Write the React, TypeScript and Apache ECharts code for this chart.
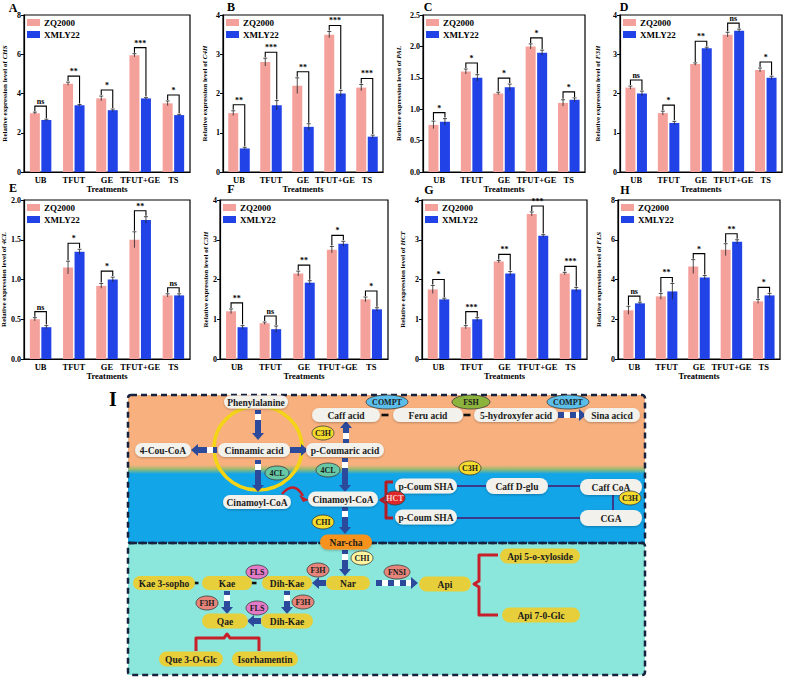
import React, { useEffect, useRef } from 'react';
import * as echarts from 'echarts';

const treatments = ['UB', 'TFUT', 'GE', 'TFUT+GE', 'TS'];
const cultivars = ['ZQ2000', 'XMLY22'];

// A - CHS
const chsZQ = [3.0, 4.5, 3.75, 5.95, 3.5];
const chsXM = [2.65, 3.4, 3.15, 3.75, 2.9];
const chsZQErr = [0.05, 0.08, 0.12, 0.08, 0.12];
const chsXMErr = [0.04, 0.04, 0.06, 0.04, 0.04];
const chsSig = ['ns', '**', '*', '***', '*'];
// B - C4H
const c4hZQ = [1.5, 2.8, 2.2, 3.5, 2.15];
const c4hXM = [0.6, 1.7, 1.15, 2.0, 0.9];
const c4hZQErr = [0.06, 0.1, 0.2, 0.08, 0.08];
const c4hXMErr = [0.03, 0.12, 0.08, 0.08, 0.04];
const c4hSig = ['**', '***', '**', '***', '***'];
// C - PAL
const palZQ = [0.75, 1.6, 1.25, 2.0, 1.1];
const palXM = [0.8, 1.5, 1.35, 1.9, 1.15];
const palZQErr = [0.06, 0.04, 0.02, 0.04, 0.05];
const palXMErr = [0.05, 0.05, 0.05, 0.04, 0.03];
const palSig = ['*', '*', '*', '*', '*'];
// D - F3H
const f3hZQ = [2.15, 1.5, 2.75, 3.5, 2.6];
const f3hXM = [2.0, 1.25, 3.15, 3.6, 2.4];
const f3hZQErr = [0.04, 0.05, 0.03, 0.06, 0.05];
const f3hXMErr = [0.06, 0.04, 0.03, 0.04, 0.04];
const f3hSig = ['ns', '*', '**', 'ns', '*'];
// E - 4CL
const c4lZQ = [0.5, 1.15, 0.92, 1.5, 0.8];
const c4lXM = [0.4, 1.35, 1.0, 1.75, 0.8];
const c4lZQErr = [0.02, 0.08, 0.03, 0.1, 0.02];
const c4lXMErr = [0.02, 0.03, 0.03, 0.04, 0.02];
const c4lSig = ['ns', '*', '*', '**', 'ns'];
// F - C3H
const c3hZQ = [1.2, 0.9, 2.15, 2.75, 1.5];
const c3hXM = [0.8, 0.75, 1.92, 2.9, 1.25];
const c3hZQErr = [0.06, 0.03, 0.06, 0.08, 0.06];
const c3hXMErr = [0.04, 0.08, 0.05, 0.06, 0.04];
const c3hSig = ['**', 'ns', '**', '*', '*'];
// G - HCT
const hctZQ = [1.75, 0.8, 2.45, 3.65, 2.15];
const hctXM = [1.5, 1.0, 2.15, 3.1, 1.75];
const hctZQErr = [0.1, 0.04, 0.03, 0.05, 0.03];
const hctXMErr = [0.03, 0.04, 0.05, 0.03, 0.05];
const hctSig = ['*', '***', '**', '***', '***'];
// H - FLS
const flsZQ = [2.45, 3.15, 4.65, 5.5, 2.9];
const flsXM = [2.8, 3.4, 4.1, 5.9, 3.2];
const flsZQErr = [0.2, 0.15, 0.35, 0.3, 0.1];
const flsXMErr = [0.06, 0.4, 0.1, 0.1, 0.1];
const flsSig = ['ns', '**', '*', '**', '*'];

const panels = [
  { letter: 'A', gene: 'CHS', zq: chsZQ, xm: chsXM, zqErr: chsZQErr, xmErr: chsXMErr, sig: chsSig, max: 8, interval: 2, dec: 0 },
  { letter: 'B', gene: 'C4H', zq: c4hZQ, xm: c4hXM, zqErr: c4hZQErr, xmErr: c4hXMErr, sig: c4hSig, max: 4, interval: 1, dec: 0 },
  { letter: 'C', gene: 'PAL', zq: palZQ, xm: palXM, zqErr: palZQErr, xmErr: palXMErr, sig: palSig, max: 2.5, interval: 0.5, dec: 1 },
  { letter: 'D', gene: 'F3H', zq: f3hZQ, xm: f3hXM, zqErr: f3hZQErr, xmErr: f3hXMErr, sig: f3hSig, max: 4, interval: 1, dec: 0 },
  { letter: 'E', gene: '4CL', zq: c4lZQ, xm: c4lXM, zqErr: c4lZQErr, xmErr: c4lXMErr, sig: c4lSig, max: 2, interval: 0.5, dec: 1 },
  { letter: 'F', gene: 'C3H', zq: c3hZQ, xm: c3hXM, zqErr: c3hZQErr, xmErr: c3hXMErr, sig: c3hSig, max: 4, interval: 1, dec: 0 },
  { letter: 'G', gene: 'HCT', zq: hctZQ, xm: hctXM, zqErr: hctZQErr, xmErr: hctXMErr, sig: hctSig, max: 4, interval: 1, dec: 0 },
  { letter: 'H', gene: 'FLS', zq: flsZQ, xm: flsXM, zqErr: flsZQErr, xmErr: flsXMErr, sig: flsSig, max: 8, interval: 2, dec: 0 },
];

const layouts = [
  { left: 24, top: 15, width: 166, height: 157, nameGap: 15.5, lx: 13, ly: 8 },
  { left: 223, top: 15, width: 160, height: 157, nameGap: 14.5, lx: 231, ly: 7 },
  { left: 423, top: 15, width: 162, height: 157, nameGap: 20.5, lx: 428, ly: 7 },
  { left: 620, top: 15, width: 162, height: 157, nameGap: 18.5, lx: 624, ly: 7 },
  { left: 24, top: 200, width: 166, height: 159, nameGap: 15.5, lx: 13, ly: 188 },
  { left: 220, top: 200, width: 168, height: 159, nameGap: 8.5, lx: 231, ly: 189 },
  { left: 422, top: 200, width: 165, height: 159, nameGap: 15.5, lx: 429, ly: 190 },
  { left: 618, top: 200, width: 162, height: 159, nameGap: 15.5, lx: 625, ly: 190 },
];

const FONT = '"Liberation Serif", "Times New Roman", serif';
const ZQC = '#F4A19C';
const XMC = '#2142E6';
const BAR_W = 10;
const OFF = 5.75;

const makeRenderer = (p: any) => (params: any, api: any) => {
  const i = params.dataIndex;
  const cx = api.coord([i, 0])[0];
  const xl = cx - OFF;
  const xr = cx + OFF;
  const y = (v: number) => api.coord([i, v])[1];
  const zt = y(p.zq[i] + p.zqErr[i]);
  const zb = y(p.zq[i] - p.zqErr[i]);
  const xt = y(p.xm[i] + p.xmErr[i]);
  const xb = y(p.xm[i] - p.xmErr[i]);
  const yb = Math.min(zt, xt) - 6;
  const ls = { stroke: '#222', lineWidth: 0.8 };
  return {
    type: 'group',
    children: [
      { type: 'line', shape: { x1: xl, y1: zt, x2: xl, y2: zb }, style: ls },
      { type: 'line', shape: { x1: xl - 2, y1: zt, x2: xl + 2, y2: zt }, style: ls },
      { type: 'line', shape: { x1: xr, y1: xt, x2: xr, y2: xb }, style: ls },
      { type: 'line', shape: { x1: xr - 2, y1: xt, x2: xr + 2, y2: xt }, style: ls },
      {
        type: 'polyline',
        shape: { points: [[xl, zt - 1], [xl, yb], [xr, yb], [xr, xt - 1]] },
        style: { stroke: '#000', lineWidth: 1.1, fill: 'none' },
      },
      {
        type: 'text',
        x: cx,
        y: yb - 0.5,
        style: { text: p.sig[i], align: 'center', verticalAlign: 'bottom', font: 'bold 8px ' + FONT, fill: '#000' },
      },
    ],
  };
};

// ---------- pathway diagram helpers ----------
const ARROW = '#2B4A9C';
function arrow(x1: number, y1: number, x2: number, y2: number, dashed = false) {
  const els: any[] = [];
  const hl = 7, hw = 12, sw = 6;
  const horiz = y1 === y2;
  const dir = horiz ? Math.sign(x2 - x1) : Math.sign(y2 - y1);
  const len = horiz ? Math.abs(x2 - x1) : Math.abs(y2 - y1);
  const shaft = Math.max(0, len - hl);
  const pt = (t: number, s: number) => (horiz ? [x1 + dir * t, y1 + s] : [x1 + s, y1 + dir * t]);
  const segs: any[] = [];
  if (dashed) {
    let t = 0, k = 0;
    while (t < shaft - 0.5) {
      const e = Math.min(shaft, t + 6);
      segs.push([t, e, k % 2 ? '#FFFFFF' : ARROW]);
      t = e; k++;
    }
  } else if (shaft > 0) {
    segs.push([0, shaft, ARROW]);
    if (shaft > 13) segs.push([4, 10, '#FFFFFF']);
  }
  segs.forEach(([a, b, col]) => {
    const p1 = pt(a, -sw / 2), p2 = pt(b, sw / 2);
    els.push({
      type: 'rect', silent: true,
      shape: { x: Math.min(p1[0], p2[0]), y: Math.min(p1[1], p2[1]), width: Math.abs(p2[0] - p1[0]), height: Math.abs(p2[1] - p1[1]) },
      style: { fill: col },
    });
  });
  els.push({ type: 'polygon', silent: true, shape: { points: [pt(shaft, -hw / 2), pt(len, 0), pt(shaft, hw / 2)] }, style: { fill: ARROW } });
  return els;
}

function pill(cx: number, cy: number, w: number, h: number, text: string, fill: string, shadow = true) {
  return [
    {
      type: 'rect', silent: true,
      shape: { x: cx - w / 2, y: cy - h / 2, width: w, height: h, r: h / 2 },
      style: shadow ? { fill, shadowBlur: 2, shadowColor: 'rgba(0,0,0,0.25)', shadowOffsetY: 1 } : { fill },
    },
    {
      type: 'text', silent: true, x: cx, y: cy + 0.5,
      style: { text, align: 'center', verticalAlign: 'middle', font: 'bold 9.5px ' + FONT, fill: '#1c1c1c' },
    },
  ];
}

function enz(cx: number, cy: number, rx: number, ry: number, text: string, fill: string, color = '#1c1c1c') {
  return [
    { type: 'ellipse', silent: true, shape: { cx, cy, rx, ry }, style: { fill, stroke: '#3a3a3a', lineWidth: 0.8 } },
    { type: 'text', silent: true, x: cx, y: cy + 0.5, style: { text, align: 'center', verticalAlign: 'middle', font: 'bold 8px ' + FONT, fill: color } },
  ];
}

function buildPathway() {
  const g: any[] = [];
  const LIGHT = '#F2F1EB';
  const YEL = '#E6CF3B';
  // backgrounds
  g.push({ type: 'rect', silent: true, shape: { x: 128, y: 395, width: 517, height: 75 }, style: { fill: '#F8B07F' } });
  g.push({ type: 'rect', silent: true, shape: { x: 128, y: 470, width: 517, height: 73 }, style: { fill: '#12A5E8' } });
  g.push({
    type: 'rect', silent: true, shape: { x: 128, y: 465, width: 517, height: 9 },
    style: {
      fill: {
        type: 'linear', x: 0, y: 0, x2: 0, y2: 1,
        colorStops: [{ offset: 0, color: '#F8B07F' }, { offset: 0.45, color: '#9DBB6E' }, { offset: 1, color: '#12A5E8' }],
      },
    },
  });
  g.push({ type: 'rect', silent: true, shape: { x: 128, y: 543, width: 517, height: 132 }, style: { fill: '#8BE7DB' } });
  // dashed frames
  g.push({ type: 'rect', silent: true, shape: { x: 128, y: 395, width: 517, height: 148, r: 3 }, style: { fill: 'none', stroke: '#17223F', lineWidth: 2.5, lineDash: [6, 4] } });
  g.push({ type: 'rect', silent: true, shape: { x: 128, y: 543, width: 517, height: 132, r: 3 }, style: { fill: 'none', stroke: '#17223F', lineWidth: 2.5, lineDash: [6, 4] } });
  g.push({ type: 'text', silent: true, x: 113, y: 399, style: { text: 'I', align: 'center', verticalAlign: 'middle', font: 'bold 20px ' + FONT, fill: '#000' } });

  // yellow circle
  g.push({ type: 'ellipse', silent: true, shape: { cx: 258, cy: 448, rx: 44, ry: 42 }, style: { fill: 'none', stroke: '#F3D417', lineWidth: 3.5 } });

  // connector lines
  const CL = '#3A3A8C';
  g.push({ type: 'line', silent: true, shape: { x1: 456, y1: 486, x2: 488, y2: 486 }, style: { stroke: CL, lineWidth: 2 } });
  g.push({ type: 'line', silent: true, shape: { x1: 547, y1: 486, x2: 581, y2: 486 }, style: { stroke: CL, lineWidth: 2 } });
  g.push({ type: 'line', silent: true, shape: { x1: 613, y1: 494, x2: 613, y2: 511 }, style: { stroke: CL, lineWidth: 2 } });
  g.push({ type: 'line', silent: true, shape: { x1: 456, y1: 518, x2: 581, y2: 518 }, style: { stroke: CL, lineWidth: 2 } });
  // short dashes
  [[385, 415, 7], [467, 415, 7], [196, 583, 5], [254, 583, 5]].forEach(([x, y, w]) => {
    g.push({ type: 'rect', silent: true, shape: { x: x - w / 2, y: y - 1.3, width: w, height: 2.6 }, style: { fill: '#111' } });
  });

  // red braces & curve
  const RED = '#C21F2A';
  g.push({ type: 'polyline', silent: true, shape: { points: [[393, 482], [386, 482], [386, 497], [381, 500], [386, 503], [386, 518], [393, 518]] }, style: { stroke: '#B51D26', lineWidth: 3, fill: 'none', lineJoin: 'round' } });
  g.push({ type: 'bezierCurve', silent: true, shape: { x1: 282, y1: 494, cpx1: 294, cpy1: 480, x2: 303, y2: 496 }, style: { stroke: RED, lineWidth: 2.5, fill: 'none' } });
  g.push({ type: 'polygon', silent: true, shape: { points: [[299, 495], [309, 500], [303, 502]] }, style: { fill: RED } });
  g.push({ type: 'polyline', silent: true, shape: { points: [[196, 651], [196, 638], [224, 638], [227, 634], [230, 638], [259, 638], [259, 651]] }, style: { stroke: '#C8202A', lineWidth: 3, fill: 'none', lineJoin: 'round' } });
  g.push({ type: 'polyline', silent: true, shape: { points: [[498, 555], [479, 555], [479, 581], [474, 584], [479, 587], [479, 615], [498, 615]] }, style: { stroke: '#C8202A', lineWidth: 3, fill: 'none', lineJoin: 'round' } });

  // arrows
  g.push(...arrow(258, 410, 258, 440));
  g.push(...arrow(217, 450, 191, 450));
  g.push(...arrow(290, 450, 308, 450));
  g.push(...arrow(346, 443, 346, 421));
  g.push(...arrow(258, 460, 258, 492));
  g.push(...arrow(345, 458, 345, 492));
  g.push(...arrow(345, 507, 345, 534));
  g.push(...arrow(345, 550, 345, 576));
  g.push(...arrow(326, 583, 312, 583));
  g.push(...arrow(227, 591, 227, 614));
  g.push(...arrow(287, 591, 287, 614));
  g.push(...arrow(261, 621, 247, 621));
  g.push(...arrow(376, 583, 418, 583, true));
  g.push(...arrow(558, 415, 586, 415, true));

  // top-section metabolites
  g.push(...pill(256, 402, 64, 13, 'Phenylalanine', LIGHT));
  g.push(...pill(346, 415, 68, 14, 'Caff acid', LIGHT));
  g.push(...pill(428, 415, 70, 14, 'Feru acid', LIGHT));
  g.push(...pill(516, 415, 84, 14, '5-hydroxyfer acid', LIGHT));
  g.push(...pill(612, 415, 56, 14, 'Sina acicd', LIGHT));
  g.push(...pill(163, 450, 56, 14, '4-Cou-CoA', LIGHT));
  g.push(...pill(254, 450, 72, 14, 'Cinnamic acid', LIGHT));
  g.push(...pill(345, 450, 78, 14, 'p-Coumaric acid', LIGHT));
  g.push(...pill(257, 502, 68, 14, 'Cinamoyl-CoA', LIGHT));
  g.push(...pill(343, 499, 70, 15, 'Cinamoyl-CoA', LIGHT));
  g.push(...pill(426, 486, 62, 15, 'p-Coum SHA', LIGHT));
  g.push(...pill(426, 517, 62, 15, 'p-Coum SHA', LIGHT));
  g.push(...pill(517, 486, 62, 16, 'Caff D-glu', LIGHT));
  g.push(...pill(611, 487, 62, 16, 'Caff CoA', LIGHT));
  g.push(...pill(611, 518, 62, 16, 'CGA', LIGHT));
  // bottom-section metabolites
  g.push(...pill(346, 542, 52, 15, 'Nar-cha', '#F7931E'));
  g.push(...pill(348, 583, 44, 14, 'Nar', YEL, false));
  g.push(...pill(287, 583, 50, 14, 'Dih-Kae', YEL, false));
  g.push(...pill(227, 583, 50, 14, 'Kae', YEL, false));
  g.push(...pill(164, 583, 62, 14, 'Kae 3-sopho', YEL, false));
  g.push(...pill(225, 621, 46, 15, 'Qae', YEL, false));
  g.push(...pill(287, 621, 52, 15, 'Dih-Kae', YEL, false));
  g.push(...pill(191, 659, 64, 15, 'Que 3-O-Glc', YEL, false));
  g.push(...pill(265, 659, 66, 15, 'Isorhamentin', YEL, false));
  g.push(...pill(445, 584, 52, 15, 'Api', YEL, false));
  g.push(...pill(540, 556, 80, 15, 'Api 5-o-xyloside', YEL, false));
  g.push(...pill(541, 615, 78, 15, 'Api 7-0-Glc', YEL, false));

  // enzymes
  g.push(...enz(387, 402, 21, 7, 'COMPT', '#5BBEEA'));
  g.push(...enz(471, 402, 19, 7, 'FSH', '#8CB43C'));
  g.push(...enz(568, 402, 21, 7, 'COMPT', '#5BBEEA'));
  g.push(...enz(323, 433, 11, 7, 'C3H', '#F4DB2C'));
  g.push(...enz(277, 473, 12, 7, '4CL', '#66C8A4'));
  g.push(...enz(328, 470, 12, 7, '4CL', '#66C8A4'));
  g.push(...enz(395, 498, 10, 7, 'HCT', '#E0282A', '#F5D0D0'));
  g.push(...enz(470, 468, 11, 7, 'C3H', '#F4DB2C'));
  g.push(...enz(630, 498, 11, 7, 'C3H', '#F4DB2C'));
  g.push(...enz(323, 522, 11, 7, 'CHI', '#F4DB2C'));
  g.push(...enz(362, 558, 11, 7, 'CHI', '#FFF5A0'));
  g.push(...enz(318, 570, 11, 7, 'F3H', '#E8857A'));
  g.push(...enz(257, 572, 11, 7, 'FLS', '#E47BC8'));
  g.push(...enz(207, 603, 11, 7, 'F3H', '#E8857A'));
  g.push(...enz(303, 602, 11, 7, 'F3H', '#E8857A'));
  g.push(...enz(257, 608, 11, 7, 'FLS', '#E47BC8'));
  g.push(...enz(397, 572, 13, 7, 'FNSI', '#E8857A'));
  return g;
}

function buildOption() {
  const axisText = { color: '#000', fontFamily: FONT, fontWeight: 'bold' as const };
  const series: any[] = [];
  panels.forEach((p, k) => {
    series.push({
      type: 'bar', name: cultivars[0], xAxisIndex: k, yAxisIndex: k, data: p.zq,
      barWidth: BAR_W, barGap: '15%', itemStyle: { color: ZQC }, silent: true,
    });
    series.push({
      type: 'bar', name: cultivars[1], xAxisIndex: k, yAxisIndex: k, data: p.xm,
      barWidth: BAR_W, barGap: '15%', itemStyle: { color: XMC }, silent: true,
    });
    series.push({
      type: 'custom', name: 'sig' + k, xAxisIndex: k, yAxisIndex: k,
      data: p.zq.map((v, i) => [i, Math.max(v, p.xm[i])]),
      renderItem: makeRenderer(p), z: 5, silent: true,
    });
  });
  const titles = panels.map((p, k) => ({
    type: 'text', silent: true, x: layouts[k].lx, y: layouts[k].ly,
    style: { text: p.letter, align: 'center', verticalAlign: 'middle', font: 'bold 12px ' + FONT, fill: '#000' },
  }));
  return {
    animation: false,
    backgroundColor: '#FFFFFF',
    grid: layouts.map((l) => ({
      left: l.left, top: l.top, width: l.width, height: l.height,
      show: true, borderColor: '#000', borderWidth: 1.2, backgroundColor: 'transparent',
      containLabel: false, outerBoundsMode: 'none',
    })),
    xAxis: panels.map((p, k) => ({
      type: 'category', gridIndex: k, data: treatments,
      axisLine: { lineStyle: { color: '#000', width: 1.2 } },
      axisTick: { show: false },
      axisLabel: { ...axisText, interval: 0, fontSize: 8.5, margin: 3 },
      name: 'Treatments', nameLocation: 'middle', nameGap: 12,
      nameTextStyle: { ...axisText, fontSize: 8.5 },
    })),
    yAxis: panels.map((p, k) => ({
      type: 'value', gridIndex: k, min: 0, max: p.max, interval: p.interval,
      axisLine: { show: true, lineStyle: { color: '#000', width: 1.2 } },
      axisTick: { show: true, length: 3, lineStyle: { color: '#000' } },
      splitLine: { show: false },
      axisLabel: { ...axisText, fontSize: 8, margin: 3, formatter: (v: number) => v.toFixed(p.dec) },
      name: 'Relative expression level of {g|' + p.gene + '}',
      nameLocation: 'middle', nameGap: layouts[k].nameGap,
      nameTextStyle: {
        ...axisText, fontSize: 7,
        rich: { g: { fontFamily: FONT, fontWeight: 'bold', fontStyle: 'italic', fontSize: 7, color: '#000' } },
      },
    })),
    legend: layouts.map((l) => ({
      data: cultivars, left: l.left + 3, top: l.top + 3, orient: 'vertical',
      itemWidth: 13, itemHeight: 7, itemGap: 3, icon: 'rect', padding: 0,
      selectedMode: false,
      textStyle: { ...axisText, fontSize: 9, padding: [0, 0, 0, -1] },
    })),
    series,
    graphic: [...titles, ...buildPathway()],
  };
}

export default function App() {
  const ref = useRef<HTMLDivElement>(null);
  useEffect(() => {
    if (!ref.current) return;
    const chart = echarts.init(ref.current, undefined, { renderer: 'svg' });
    chart.setOption(buildOption() as any);
    return () => chart.dispose();
  }, []);
  return (
    <div
      ref={ref}
      style={{ position: 'absolute', left: 0, top: 0, width: 788, height: 682, background: '#fff' }}
    />
  );
}
